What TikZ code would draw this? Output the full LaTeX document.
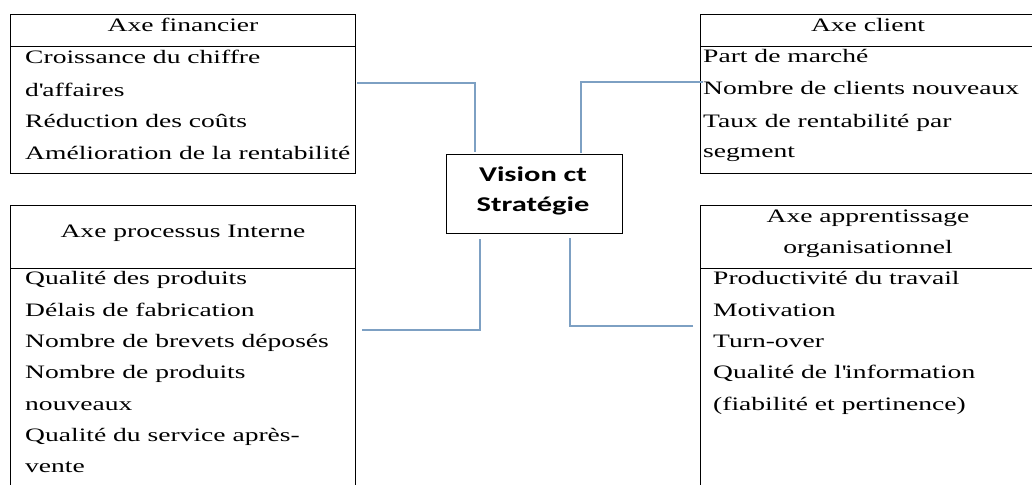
\documentclass[tikz,border=0pt]{standalone}
\usepackage{fontspec}
\setmainfont[FakeStretch=1.45]{Liberation Serif}
\newfontfamily\visionfont[FakeStretch=1.45]{Carlito}
\definecolor{linkblue}{RGB}{125,160,195}
\newcommand{\sq}{\textquotesingle}
\begin{document}
\begin{tikzpicture}[x=1pt,y=-1pt,
  axebox/.style={draw=black,line width=1pt,inner sep=0pt},
  rule/.style={draw=black,line width=1pt},
  item/.style={anchor=base west,inner sep=0pt,font=\fontsize{19}{23}\selectfont},
  head/.style={anchor=base,inner sep=0pt,font=\fontsize{19}{23}\selectfont},
  link/.style={draw=linkblue,line width=1.3pt}]
\clip (0,0) rectangle (1032,484);
\fill[white] (0,0) rectangle (1032,484);

% central box
\node[axebox,minimum width=176pt,minimum height=79pt] (vis) at (534,193.5) {};
\node[anchor=base,inner sep=0pt,font=\visionfont\bfseries\fontsize{21}{25}\selectfont] (vis1) at (533,181) {Vision ct};
\node[anchor=base,inner sep=0pt,font=\visionfont\bfseries\fontsize{21}{25}\selectfont] (vis2) at (533,211) {Stratégie};

% Axe financier
\node[axebox,minimum width=345pt,minimum height=158pt] (fin) at (182.5,94) {};
\draw[rule] (10,47) coordinate (finl) -- (355,47) coordinate (finr);
\node[head] (finh) at (183,32) {Axe financier};
\node[item] (fin1) at (25,64) {Croissance du chiffre};
\node[item] (fin2) at (25,96) {d\sq affaires};
\node[item] (fin3) at (25,128) {Réduction des coûts};
\node[item] (fin4) at (25,159) {Amélioration de la rentabilité};

% Axe client
\node[axebox,minimum width=335pt,minimum height=158pt] (cli) at (867.5,94) {};
\draw[rule] (700,47) coordinate (clil) -- (1035,47) coordinate (clir);
\node[head] (clih) at (868,32) {Axe client};
\node[item] (cli1) at (703,63) {Part de marché};
\node[item] (cli2) at (703,95) {Nombre de clients nouveaux};
\node[item] (cli3) at (703,127) {Taux de rentabilité par};
\node[item] (cli4) at (703,157) {segment};

% Axe processus interne
\node[axebox,minimum width=345pt,minimum height=300pt] (proc) at (182.5,355) {};
\draw[rule] (10,268) coordinate (procl) -- (355,268) coordinate (procr);
\node[head] (proch) at (183,237) {Axe processus Interne};
\node[item] (proc1) at (25,284) {Qualité des produits};
\node[item] (proc2) at (25,316) {Délais de fabrication};
\node[item] (proc3) at (25,347) {Nombre de brevets déposés};
\node[item] (proc4) at (25,378) {Nombre de produits};
\node[item] (proc5) at (25,410) {nouveaux};
\node[item] (proc6) at (25,441) {Qualité du service après-};
\node[item] (proc7) at (25,472) {vente};

% Axe apprentissage organisationnel
\node[axebox,minimum width=335pt,minimum height=300pt] (app) at (867.5,355) {};
\draw[rule] (700,268) coordinate (appl) -- (1035,268) coordinate (appr);
\node[head] (apph1) at (868,222) {Axe apprentissage};
\node[head] (apph2) at (868,253) {organisationnel};
\node[item] (app1) at (713,284) {Productivité du travail};
\node[item] (app2) at (713,316) {Motivation};
\node[item] (app3) at (713,347) {Turn-over};
\node[item] (app4) at (713,378) {Qualité de l\sq information};
\node[item] (app5) at (713,410) {(fiabilité et pertinence)};

% connector end points (small gaps next to the boxes)
\coordinate (finA) at (357,83);
\coordinate (visA) at (475,152);
\coordinate (cliA) at (703,82);
\coordinate (visB) at (581,153);
\coordinate (procA) at (362,330);
\coordinate (visC) at (480,239);
\coordinate (appA) at (693,326);
\coordinate (visD) at (570,238);

\draw[link] (finA) -| (visA);
\draw[link] (cliA) -| (visB);
\draw[link] (procA) -| (visC);
\draw[link] (appA) -| (visD);
\end{tikzpicture}
\end{document}
